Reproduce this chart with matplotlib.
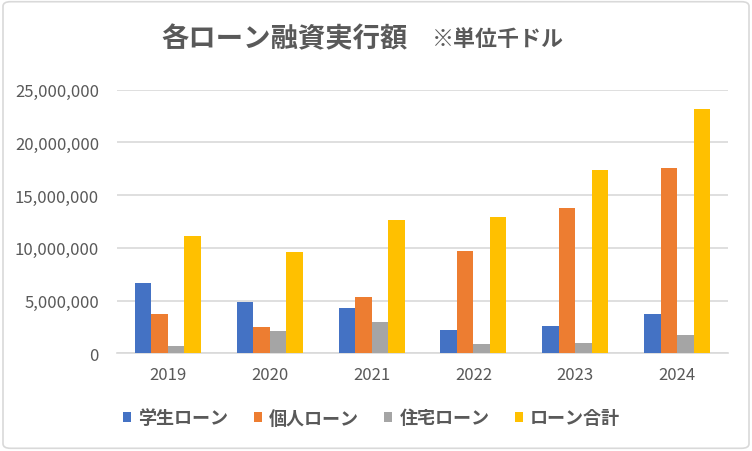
import matplotlib
matplotlib.use('Agg')
import matplotlib.pyplot as plt
from matplotlib.patches import Patch, FancyBboxPatch
from matplotlib.ticker import FuncFormatter
import numpy as np

plt.rcParams['font.family'] = ['Noto Sans CJK JP', 'DejaVu Sans']

# data (unit: thousand dollars)
years = ['2019', '2020', '2021', '2022', '2023', '2024']
student = [6670000, 4900000, 4300000, 2240000, 2620000, 3760000]
personal = [3730000, 2530000, 5370000, 9710000, 13820000, 17610000]
housing = [720000, 2120000, 2970000, 880000, 1010000, 1770000]
total = [11160000, 9640000, 12650000, 12960000, 17420000, 23210000]

labels = ['学生ローン', '個人ローン', '住宅ローン', 'ローン合計']
colors = ['#4472C4', '#ED7D31', '#A5A5A5', '#FFC000']
text_col = '#595959'
grid_col = '#D9D9D9'

fig = plt.figure(figsize=(7.52, 4.52), dpi=100)
ax = fig.add_axes([117 / 752, 1 - 354.3 / 452, 611 / 752, 263.6 / 452])

x = np.arange(len(years))
w = 0.162
series = [student, personal, housing, total]
for i, vals in enumerate(series):
    ax.bar(x + (i - 1.5) * w, vals, width=w, color=colors[i], zorder=3)

ax.set_xlim(-0.5, len(years) - 0.5)
ax.set_ylim(0, 25000000)
ax.set_yticks(np.arange(0, 25000001, 5000000))
ax.yaxis.set_major_formatter(FuncFormatter(lambda v, p: '{:,.0f}'.format(v)))
ax.set_xticks(x)
ax.set_xticklabels(years)
ax.grid(axis='y', color=grid_col, linewidth=1.2, zorder=0)
for s in ['top', 'right', 'left']:
    ax.spines[s].set_visible(False)
ax.spines['bottom'].set_color(grid_col)
ax.spines['bottom'].set_linewidth(1.2)
ax.tick_params(axis='both', length=0, colors=text_col, labelsize=12)
ax.tick_params(axis='y', pad=13)
ax.tick_params(axis='x', pad=9)

fig.text(161 / 752, 1 - 39 / 452, '各ローン融資実行額', fontsize=19.7, fontweight='bold',
         color=text_col, ha='left', va='center')
fig.text(432 / 752, 1 - 39 / 452, '※単位千ドル', fontsize=15.8, fontweight='bold',
         color=text_col, ha='left', va='center')

handles = [Patch(facecolor=c, edgecolor='none') for c in colors]
leg = fig.legend(handles, labels, loc='center', bbox_to_anchor=(0.494, 1 - 419 / 452), ncol=4,
                 frameon=False, fontsize=13, handlelength=0.45, handleheight=0.45,
                 handletextpad=0.4, columnspacing=1.4)
for t in leg.get_texts():
    t.set_color(text_col)
    t.set_fontweight('bold')

border = FancyBboxPatch((0.004, 0.006), 0.992, 0.988, boxstyle='round,pad=0,rounding_size=0.01',
                        transform=fig.transFigure, facecolor='none', edgecolor=grid_col, linewidth=1.2)
fig.patches.append(border)

fig.savefig('out.png', dpi=100)
